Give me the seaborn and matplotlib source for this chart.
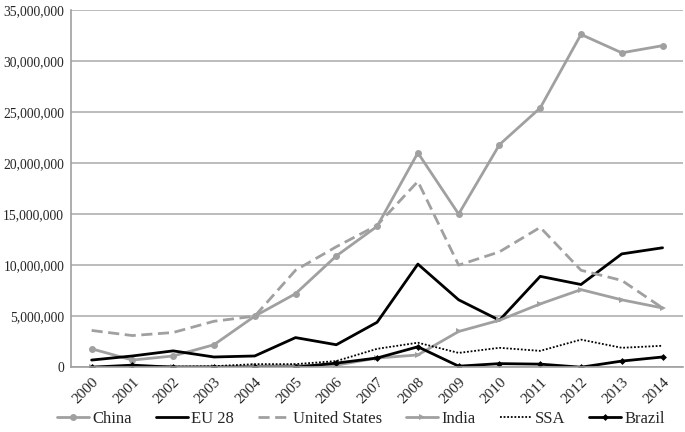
import matplotlib
matplotlib.use('Agg')
import numpy as np
import pandas as pd
import matplotlib.pyplot as plt
import seaborn as sns
from matplotlib.ticker import FuncFormatter

# Data
years = [str(y) for y in range(2000, 2015)]
china = [1.8, 0.7, 1.1, 2.2, 5.0, 7.2, 10.9, 13.8, 21.0, 15.0, 21.8, 25.4, 32.6, 30.8, 31.5]
eu28 = [0.7, 1.1, 1.6, 1.0, 1.1, 2.9, 2.2, 4.4, 10.1, 6.6, 4.6, 8.9, 8.1, 11.1, 11.7]
usa = [3.6, 3.1, 3.4, 4.5, 5.0, 9.5, 11.8, 13.9, 18.2, 10.0, 11.3, 13.7, 9.5, 8.5, 5.8]
india = [0.0, 0.05, 0.05, 0.05, 0.1, 0.15, 0.2, 0.9, 1.2, 3.5, 4.6, 6.2, 7.6, 6.6, 5.8]
ssa = [0.0, 0.1, 0.05, 0.1, 0.3, 0.3, 0.6, 1.8, 2.4, 1.4, 1.9, 1.6, 2.7, 1.9, 2.1]
brazil = [0.0, 0.2, 0.0, 0.0, 0.0, 0.0, 0.4, 0.9, 2.0, 0.1, 0.35, 0.3, 0.0, 0.6, 1.0]

series = {'China': china, 'EU 28': eu28, 'United States': usa,
          'India': india, 'SSA': ssa, 'Brazil': brazil}

df = pd.DataFrame({'year': years})
for name, vals in series.items():
    df[name] = np.array(vals) * 1e6
df['x'] = np.arange(len(years))

sns.set_style('white')
plt.rcParams['font.family'] = ['Liberation Serif', 'DejaVu Serif']

grey = '#a0a0a0'
styles = {
    'China': dict(color=grey, linestyle='-', marker='o', markersize=5),
    'EU 28': dict(color='black', linestyle='-', marker=None),
    'United States': dict(color=grey, linestyle=(0, (4, 2)), marker=None),
    'India': dict(color=grey, linestyle='-', marker='>', markersize=5),
    'SSA': dict(color='black', linestyle=(0, (1, 1)), marker=None, linewidth=1.3),
    'Brazil': dict(color='black', linestyle='-', marker='D', markersize=3.5),
}

fig, ax = plt.subplots(figsize=(6.85, 4.32), dpi=100)
fig.subplots_adjust(left=0.104, right=0.997, top=0.977, bottom=0.150)

for name in series:
    st = dict(styles[name])
    lw = st.pop('linewidth', 2)
    sns.lineplot(data=df, x='x', y=name, ax=ax, label=name, linewidth=lw,
                 markeredgewidth=0, **st)

ax.set_xlim(-0.5, len(years) - 0.5)
ax.set_ylim(0, 35e6)
ax.set_yticks(np.arange(0, 35e6 + 1, 5e6))
ax.yaxis.set_major_formatter(FuncFormatter(lambda v, p: f'{int(v):,}'))
ax.set_xticks(np.arange(len(years)))
ax.set_xticklabels(years, rotation=45, ha='right', rotation_mode='anchor')
ax.set_xticks(np.arange(len(years) + 1) - 0.5, minor=True)
ax.tick_params(axis='x', which='major', length=0, labelsize=11, pad=6)
ax.tick_params(axis='x', which='minor', length=4, color=grey, width=1, direction='out')
ax.tick_params(axis='y', labelsize=9.8, length=4, color=grey, pad=1)
ax.set_xlabel('')
ax.set_ylabel('')

ax.grid(axis='y', color='#b0b0b0', linewidth=1.2)
ax.set_axisbelow(True)
for s in ['top', 'right']:
    ax.spines[s].set_visible(False)
for s in ['left', 'bottom']:
    ax.spines[s].set_color(grey)
    ax.spines[s].set_linewidth(1.2)

leg = ax.legend(loc='center', ncol=6, frameon=False,
                fontsize=12, handlelength=1.9, handletextpad=0.2, columnspacing=1.45)
leg.set_bbox_to_anchor((0.527, 0.031), transform=fig.transFigure)

fig.savefig('out.png', dpi=100)
